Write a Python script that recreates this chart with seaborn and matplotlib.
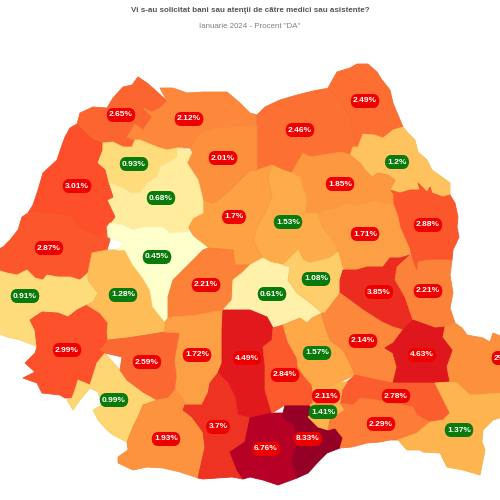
import numpy as np
import seaborn as sns
import matplotlib.pyplot as plt
from matplotlib.colors import LogNorm

title = "Vi s-au solicitat bani sau atenţii de către medici sau asistente?"
subtitle = 'Ianuarie 2024 - Procent "DA"'

counties = ["Satu Mare", "Maramures", "Suceava", "Botosani", "Iasi", "Vaslui", "Neamt",
            "Bacau", "Harghita", "Mures", "Bistrita", "Salaj", "Cluj", "Bihor", "Arad",
            "Timis", "Caras", "Hunedoara", "Alba", "Sibiu", "Brasov", "Covasna", "Vrancea",
            "Galati", "Mehedinti", "Gorj", "Valcea", "Arges", "Dolj", "Olt", "Teleorman",
            "Giurgiu", "Dambovita", "Prahova", "Buzau", "Braila", "Tulcea", "Ialomita",
            "Ilfov", "Bucuresti", "Calarasi", "Constanta"]
values = [2.65, 2.12, 2.46, 2.49, 1.2, 2.88, 1.85,
          1.71, 1.53, 1.7, 2.01, 0.93, 0.68, 3.01, 2.87,
          0.91, 2.99, 1.28, 0.45, 2.21, 0.61, 1.08, 3.85,
          2.21, 0.99, 2.59, 1.72, 4.49, 1.93, 3.7, 6.76,
          8.33, 2.84, 1.57, 2.14, 4.63, 2, 2.78,
          1.41, 2.11, 2.29, 1.37]

# county outlines, in picture pixels
outlines = {
    "Satu Mare": [(77,124),(80,113),(93,107),(107,108),(113,98),(123,87),(132,85),(138,77),(147,83),(155,90),(167,101),(160,108),(152,112),(143,108),(152,117),(143,130),(135,124),(127,137),(135,140),(132,147),(123,147),(113,142),(102,143),(93,140),(80,128)],
    "Maramures": [(160,88),(173,88),(187,93),(203,92),(227,92),(240,103),(250,113),(257,115),(257,125),(213,128),(198,135),(190,148),(177,148),(167,150),(157,147),(140,140),(135,140),(127,137),(135,124),(143,130),(152,117),(143,108),(152,112),(160,108),(167,101)],
    "Suceava": [(257,115),(265,107),(280,100),(297,95),(313,91),(329,88),(340,100),(350,117),(353,132),(358,147),(353,147),(350,155),(342,152),(322,155),(310,157),(303,153),(297,163),(292,173),(283,170),(272,165),(257,170),(257,125)],
    "Botosani": [(328,88),(337,72),(350,68),(357,64),(368,64),(377,72),(382,80),(390,90),(393,103),(398,115),(403,127),(393,130),(383,138),(375,135),(363,134),(358,147),(353,132),(350,117),(340,100)],
    "Iasi": [(363,134),(375,135),(383,138),(393,130),(403,127),(408,133),(415,140),(418,152),(427,160),(432,170),(442,177),(450,183),(450,195),(443,197),(432,193),(430,187),(427,192),(418,183),(420,190),(410,190),(400,193),(390,190),(395,180),(388,175),(378,173),(372,177),(365,170),(360,163),(350,155),(353,147),(358,147)],
    "Vaslui": [(390,190),(400,193),(410,190),(420,190),(418,183),(427,192),(430,187),(432,193),(443,197),(450,195),(455,203),(458,217),(457,227),(459,237),(453,250),(452,260),(447,260),(428,260),(418,262),(417,272),(413,262),(410,250),(400,227),(398,217),(393,203),(393,195)],
    "Neamt": [(297,163),(303,153),(310,157),(322,155),(342,152),(350,155),(360,163),(365,170),(372,177),(378,173),(388,175),(395,180),(390,190),(393,195),(393,203),(383,203),(373,200),(367,203),(357,205),(347,203),(335,208),(325,210),(318,213),(305,213),(307,200),(303,187),(300,177),(292,173)],
    "Bacau": [(318,213),(325,210),(335,208),(347,203),(357,205),(367,203),(373,200),(383,203),(393,203),(398,217),(400,227),(410,250),(410,255),(400,258),(390,258),(383,267),(367,267),(357,270),(345,270),(338,262),(337,250),(335,243),(322,227)],
    "Harghita": [(272,165),(283,170),(292,173),(300,177),(303,187),(307,200),(305,213),(318,213),(322,227),(335,243),(337,250),(338,252),(330,258),(310,263),(303,260),(298,250),(283,265),(270,262),(263,258),(258,250),(253,240),(257,227),(265,213),(272,197),(268,177)],
    "Mures": [(250,170),(238,182),(230,190),(222,197),(213,203),(203,200),(203,213),(193,218),(188,227),(195,238),(208,248),(233,250),(235,265),(250,265),(263,258),(258,250),(253,240),(257,227),(265,213),(272,197),(268,177),(272,165),(257,170)],
    "Bistrita": [(187,163),(192,152),(190,148),(198,135),(213,128),(257,125),(257,170),(250,170),(238,182),(230,190),(222,197),(213,203),(203,200),(198,180)],
    "Salaj": [(102,143),(113,142),(123,147),(132,147),(135,140),(140,140),(157,147),(167,150),(177,148),(177,157),(160,167),(157,177),(147,183),(140,192),(132,193),(123,188),(108,182),(105,170),(97,163),(102,150)],
    "Cluj": [(192,152),(182,148),(177,148),(177,157),(160,167),(157,177),(147,183),(140,192),(132,193),(123,188),(108,182),(113,197),(107,200),(115,217),(110,223),(123,225),(133,230),(143,227),(163,227),(170,233),(188,232),(188,227),(193,218),(203,213),(203,200),(198,180),(187,163)],
    "Bihor": [(65,137),(70,128),(77,124),(80,128),(93,140),(102,143),(102,150),(97,163),(105,170),(108,182),(113,197),(107,200),(115,217),(107,227),(100,237),(90,232),(77,227),(70,215),(53,213),(37,212),(28,213),(33,205),(38,190),(43,173),(57,160),(62,145)],
    "Arad": [(28,213),(37,212),(53,213),(70,215),(77,227),(90,232),(100,237),(107,227),(110,240),(107,250),(92,253),(88,273),(80,280),(70,277),(58,277),(47,275),(43,280),(35,278),(27,270),(17,275),(7,273),(-3,270),(-3,250),(3,247),(10,240),(18,230),(22,217)],
    "Timis": [(-3,270),(7,273),(17,275),(27,270),(35,278),(43,280),(47,275),(58,277),(70,277),(80,280),(88,273),(88,280),(98,293),(93,302),(87,305),(77,310),(68,317),(58,313),(42,312),(30,320),(35,330),(37,347),(33,345),(20,340),(7,337),(-3,333)],
    "Caras": [(30,320),(42,312),(58,313),(68,317),(77,310),(87,305),(100,313),(108,323),(107,332),(108,340),(100,350),(105,353),(97,363),(90,385),(78,380),(75,390),(72,398),(65,398),(60,395),(42,393),(37,383),(23,378),(35,372),(25,363),(35,353),(37,347),(35,330)],
    "Hunedoara": [(92,253),(107,250),(125,250),(133,265),(143,278),(150,290),(153,307),(165,322),(165,332),(147,335),(127,338),(108,340),(107,332),(108,323),(100,313),(87,305),(93,302),(98,293),(88,280),(88,273)],
    "Alba": [(110,223),(123,225),(133,230),(143,227),(163,227),(170,233),(188,232),(195,238),(208,248),(203,250),(193,260),(183,270),(173,280),(168,297),(168,318),(165,322),(153,307),(150,290),(143,278),(133,265),(125,250),(117,250),(125,243),(108,237),(107,227)],
    "Sibiu": [(208,248),(233,250),(235,265),(250,265),(242,273),(233,280),(232,300),(223,310),(197,315),(173,317),(168,318),(168,297),(173,280),(183,270),(193,260),(203,250)],
    "Brasov": [(250,265),(263,258),(270,262),(283,265),(290,267),(288,280),(297,293),(313,305),(322,313),(312,318),(307,323),(300,318),(290,322),(283,325),(273,328),(267,317),(250,310),(223,310),(232,300),(233,280),(242,273)],
    "Covasna": [(283,265),(298,250),(303,260),(310,263),(330,258),(338,252),(343,270),(340,280),(340,293),(325,313),(322,313),(313,305),(297,293),(288,280),(290,267)],
    "Vrancea": [(343,270),(357,270),(367,267),(383,267),(390,258),(400,258),(410,255),(397,267),(395,280),(397,283),(405,297),(413,320),(403,330),(393,327),(382,322),(363,310),(340,293),(340,280)],
    "Galati": [(410,255),(413,262),(417,272),(418,262),(428,260),(447,260),(452,260),(450,275),(453,293),(450,308),(455,323),(445,327),(435,328),(413,320),(405,297),(397,283),(395,280),(397,267)],
    "Mehedinti": [(105,353),(120,370),(127,380),(143,392),(157,400),(143,405),(138,417),(133,427),(127,442),(113,435),(107,430),(98,420),(93,410),(102,405),(98,392),(90,388),(80,400),(73,410),(67,400),(72,398),(75,390),(78,380),(90,385),(97,363)],
    "Gorj": [(100,350),(108,340),(127,338),(147,335),(165,332),(180,333),(178,343),(175,360),(177,377),(175,390),(168,398),(157,400),(143,392),(127,380),(120,370),(122,357),(105,353)],
    "Valcea": [(165,322),(168,318),(173,317),(197,315),(223,310),(222,330),(222,363),(218,373),(210,383),(208,393),(202,405),(185,405),(182,398),(175,390),(177,377),(175,360),(178,343),(180,333),(165,332)],
    "Arges": [(223,310),(250,310),(267,317),(273,328),(272,340),(263,347),(265,365),(265,390),(270,407),(272,413),(250,418),(238,415),(235,397),(228,383),(222,377),(218,373),(222,363),(222,330)],
    "Dolj": [(157,400),(168,398),(175,390),(182,398),(185,405),(183,410),(192,417),(203,432),(205,447),(198,478),(180,472),(163,468),(147,467),(133,470),(118,463),(118,457),(128,450),(127,442),(133,427),(138,417),(143,405)],
    "Olt": [(185,405),(202,405),(208,393),(210,383),(218,373),(222,377),(228,383),(235,397),(238,415),(250,418),(245,442),(230,452),(237,470),(243,479),(232,477),(203,479),(198,478),(205,447),(203,432),(192,417),(183,410)],
    "Teleorman": [(250,418),(272,413),(283,413),(283,418),(295,425),(297,442),(292,460),(297,478),(278,485),(263,480),(250,477),(243,479),(237,470),(230,452),(245,442)],
    "Giurgiu": [(283,413),(285,405),(310,405),(313,413),(308,417),(318,427),(328,430),(335,428),(343,438),(340,448),(327,453),(318,462),(308,473),(297,478),(292,460),(297,442),(295,425),(283,418)],
    "Dambovita": [(273,328),(283,325),(288,342),(297,358),(298,367),(305,377),(312,385),(313,392),(313,403),(310,405),(285,405),(272,413),(270,407),(265,390),(265,365),(263,347),(272,340)],
    "Prahova": [(283,325),(290,322),(300,318),(307,323),(312,318),(322,313),(323,320),(330,340),(343,350),(350,363),(355,375),(340,382),(328,387),(313,387),(312,385),(305,377),(298,367),(297,358),(288,342)],
    "Buzau": [(322,313),(325,313),(340,293),(363,310),(382,322),(393,327),(403,330),(390,345),(385,348),(393,353),(397,367),(393,383),(377,380),(355,375),(350,363),(343,350),(330,340),(323,320)],
    "Braila": [(385,348),(393,343),(403,330),(413,320),(435,328),(445,327),(443,337),(453,350),(447,367),(450,382),(435,383),(427,383),(393,383),(397,367),(393,353)],
    "Tulcea": [(455,323),(462,328),(467,335),(483,338),(490,342),(493,333),(503,337),(503,393),(470,395),(457,383),(450,382),(447,367),(453,350),(443,337),(445,327)],
    "Ialomita": [(340,403),(342,390),(347,382),(355,375),(377,380),(393,383),(427,383),(435,383),(445,403),(450,413),(443,420),(430,422),(417,415),(413,407),(393,403),(377,400),(360,398),(353,405)],
    "Ilfov": [(312,385),(313,387),(328,387),(340,382),(347,382),(342,390),(340,403),(345,410),(330,420),(328,430),(318,427),(308,417),(313,413),(310,405),(313,403),(313,392)],
    "Bucuresti": [(315,392),(332,392),(335,403),(325,408),(316,405)],
    "Calarasi": [(340,403),(353,405),(360,398),(377,400),(393,403),(413,407),(417,415),(430,422),(417,433),(398,440),(390,440),(380,442),(367,443),(352,447),(340,448),(343,438),(335,428),(328,430),(330,420),(345,410)],
    "Constanta": [(435,383),(450,382),(457,383),(470,395),(503,393),(503,417),(493,420),(483,430),(482,442),(485,450),(480,475),(463,470),(447,467),(440,453),(423,452),(420,450),(407,450),(398,440),(417,433),(430,422),(443,420),(450,413),(445,403)],
}

# badge centres for the percent labels, same order as counties
label_x = [121, 189, 300, 365, 397, 428, 340, 365, 288, 234, 223, 134, 161, 77, 49,
           25, 67, 123, 157, 206, 272, 316, 379, 428, 114, 147, 197, 247, 166, 218, 266,
           308, 285, 317, 363, 422, 500, 396, 323, 326, 381, 459]
label_y = [115, 119, 130, 101, 162, 225, 184, 234, 222, 217, 158, 164, 198, 186, 248,
           296, 350, 295, 257, 285, 294, 279, 292, 291, 400, 362, 355, 358, 439, 427, 449,
           439, 375, 353, 341, 355, 358, 396, 412, 396, 424, 430]

sns.set_style("white")
plt.rcParams["font.family"] = ["Liberation Sans", "DejaVu Sans"]

cmap = sns.color_palette("YlOrRd", as_cmap=True)
norm = LogNorm(vmin=0.45, vmax=9.5)

fig, ax = plt.subplots(figsize=(5, 5), dpi=100)
ax.set_position([0, 0, 1, 1])
ax.set_xlim(0, 500)
ax.set_ylim(500, 0)
ax.axis("off")

for name, val in zip(counties, values):
    xy = np.array(outlines[name])
    face = np.array(cmap(norm(val)))
    # borders only a shade darker than the county itself
    edge = face * [0.97, 0.97, 0.97, 1]
    ax.fill(xy[:, 0], xy[:, 1], facecolor=face, edgecolor=edge, linewidth=0.6)

for val, x, y in zip(values, label_x, label_y):
    badge = "#ee0000" if val >= 1.6 else "#0a7a0a"
    ax.text(x, y, str(val) + "%", color="white", fontsize=6.0, fontweight="bold",
            ha="center", va="center", clip_on=True,
            bbox=dict(boxstyle="round,pad=0.3,rounding_size=0.75", facecolor=badge,
                      edgecolor="none", mutation_aspect=1.4))

ax.text(250, 10.5, title, color="#555555", fontsize=5.75, fontweight="bold", ha="center", va="center")
ax.text(250, 27, subtitle, color="#808080", fontsize=5.7, ha="center", va="center")

plt.savefig("out.png", dpi=100)
plt.close()
